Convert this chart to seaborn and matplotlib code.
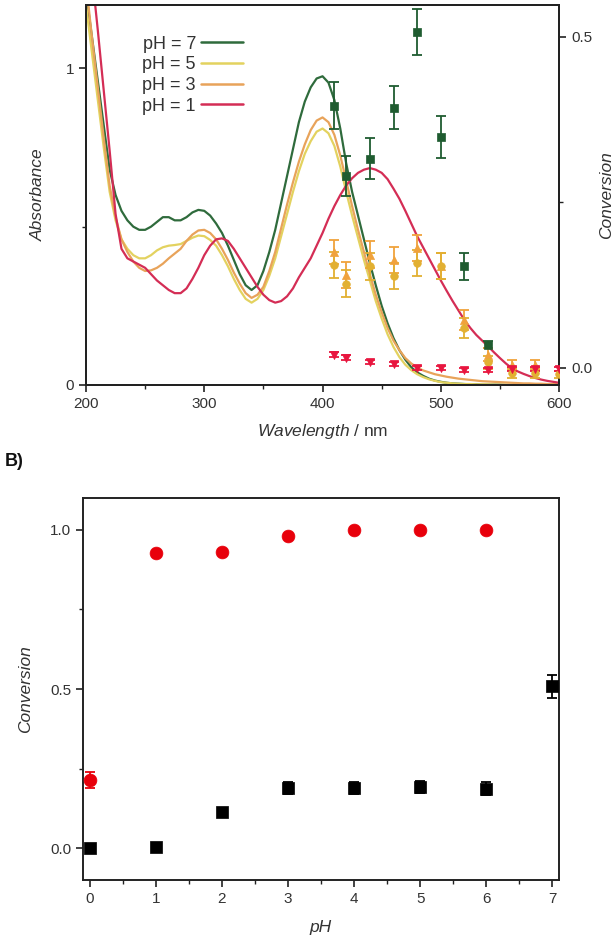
import numpy as np
import pandas as pd
import matplotlib
matplotlib.use("Agg")
import matplotlib.pyplot as plt
from matplotlib.ticker import MultipleLocator, FormatStrFormatter
from matplotlib.lines import Line2D
import seaborn as sns

# ---------------- data: panel A (absorbance spectra) ----------------
wl = [200, 205, 210, 215, 220, 225, 230, 235, 240, 245, 250, 255, 260, 265, 270, 275, 280, 285,
      290, 295, 300, 305, 310, 315, 320, 325, 330, 335, 340, 345, 350, 355, 360, 365, 370, 375,
      380, 385, 390, 395, 400, 405, 410, 415, 420, 425, 430, 435, 440, 445, 450, 455, 460, 465,
      470, 475, 480, 485, 490, 495, 500, 505, 510, 515, 520, 525, 530, 535, 540, 545, 550, 555,
      560, 565, 570, 575, 580, 585, 590, 595, 600]
abs_ph7 = [1.24, 1.10, 0.96, 0.82, 0.68, 0.60, 0.55, 0.52, 0.50, 0.49, 0.49, 0.50, 0.515, 0.53, 0.53, 0.52, 0.52, 0.53,
           0.545, 0.553, 0.55, 0.535, 0.51, 0.48, 0.44, 0.395, 0.35, 0.315, 0.30, 0.315, 0.36, 0.42, 0.49, 0.575, 0.66, 0.745,
           0.83, 0.895, 0.94, 0.968, 0.975, 0.955, 0.90, 0.81, 0.70, 0.61, 0.535, 0.46, 0.385, 0.315, 0.25, 0.195, 0.148, 0.11,
           0.08, 0.056, 0.04, 0.029, 0.02, 0.014, 0.01, 0.007, 0.005, 0.004, 0.003, 0.002, 0.002, 0.001, 0.001, 0.001, 0.001, 0.0,
           0.0, 0.0, 0.0, 0.0, 0.0, 0.0, 0.0, 0.0, 0.0]
abs_ph5 = [1.20, 1.05, 0.90, 0.75, 0.61, 0.52, 0.46, 0.43, 0.41, 0.40, 0.40, 0.41, 0.425, 0.435, 0.44, 0.442, 0.445, 0.455,
           0.465, 0.472, 0.47, 0.458, 0.44, 0.41, 0.375, 0.335, 0.30, 0.272, 0.26, 0.272, 0.30, 0.345, 0.40, 0.47, 0.54, 0.61,
           0.675, 0.73, 0.77, 0.80, 0.81, 0.795, 0.755, 0.69, 0.61, 0.535, 0.465, 0.395, 0.33, 0.265, 0.21, 0.16, 0.12, 0.088,
           0.064, 0.047, 0.034, 0.025, 0.018, 0.013, 0.009, 0.007, 0.005, 0.004, 0.003, 0.003, 0.002, 0.002, 0.002, 0.001, 0.001, 0.001,
           0.001, 0.001, 0.0, 0.0, 0.0, 0.0, 0.0, 0.0, 0.0]
abs_ph3 = [1.27, 1.10, 0.94, 0.78, 0.63, 0.53, 0.46, 0.42, 0.39, 0.37, 0.36, 0.362, 0.37, 0.383, 0.40, 0.415, 0.43, 0.455,
           0.475, 0.488, 0.49, 0.48, 0.46, 0.43, 0.395, 0.355, 0.32, 0.29, 0.275, 0.285, 0.31, 0.36, 0.42, 0.495, 0.57, 0.64,
           0.705, 0.76, 0.805, 0.835, 0.845, 0.83, 0.79, 0.725, 0.645, 0.565, 0.49, 0.42, 0.35, 0.285, 0.23, 0.18, 0.14, 0.11,
           0.085, 0.068, 0.055, 0.046, 0.04, 0.034, 0.03, 0.026, 0.023, 0.02, 0.018, 0.016, 0.014, 0.012, 0.011, 0.01, 0.009, 0.008,
           0.007, 0.006, 0.005, 0.005, 0.004, 0.004, 0.003, 0.003, 0.003]
abs_ph1 = [1.47, 1.30, 1.12, 0.93, 0.74, 0.54, 0.43, 0.40, 0.39, 0.38, 0.37, 0.35, 0.33, 0.315, 0.30, 0.29, 0.29, 0.305,
           0.335, 0.37, 0.41, 0.44, 0.46, 0.463, 0.455, 0.43, 0.40, 0.37, 0.34, 0.31, 0.285, 0.268, 0.26, 0.265, 0.28, 0.305,
           0.34, 0.37, 0.40, 0.44, 0.48, 0.525, 0.565, 0.60, 0.63, 0.653, 0.67, 0.68, 0.685, 0.68, 0.67, 0.65, 0.62, 0.588,
           0.55, 0.51, 0.47, 0.435, 0.40, 0.365, 0.33, 0.297, 0.265, 0.235, 0.205, 0.18, 0.158, 0.14, 0.122, 0.103, 0.085, 0.068,
           0.053, 0.043, 0.035, 0.028, 0.022, 0.017, 0.013, 0.01, 0.007]

# conversions on right axis of panel A
conv_wl_ph7 = [410, 420, 440, 460, 480, 500, 520, 540]
conv_ph7 = [0.396, 0.29, 0.316, 0.393, 0.507, 0.349, 0.153, 0.035]
err_ph7 = [0.035, 0.03, 0.031, 0.033, 0.035, 0.032, 0.021, 0.005]

conv_wl_ph5 = [410, 420, 440, 460, 480, 500, 520, 540, 560, 580, 600]
conv_ph5 = [0.155, 0.127, 0.153, 0.139, 0.158, 0.154, 0.060, 0.008, -0.008, -0.008, -0.01]
err_ph5 = [0.02, 0.02, 0.02, 0.02, 0.02, 0.02, 0.015, 0.01, 0.008, 0.008, 0.005]

conv_wl_ph3 = [410, 420, 440, 460, 480, 500, 520, 540, 560, 580]
conv_ph3 = [0.175, 0.14, 0.171, 0.163, 0.181, 0.154, 0.072, 0.02, 0.004, 0.004]
err_ph3 = [0.018, 0.02, 0.02, 0.02, 0.02, 0.02, 0.015, 0.01, 0.008, 0.008]

conv_wl_ph1 = [410, 420, 440, 460, 480, 500, 520, 540, 560, 580, 600]
conv_ph1 = [0.02, 0.015, 0.008, 0.006, 0.0, 0.0, -0.003, -0.003, -0.002, -0.002, -0.002]
err_ph1 = [0.004, 0.004, 0.003, 0.003, 0.003, 0.003, 0.003, 0.003, 0.003, 0.003, 0.003]

legend_labels = ["pH = 7", "pH = 5", "pH = 3", "pH = 1"]

# ---------------- data: panel B ----------------
ph_red = [0, 1, 2, 3, 4, 5, 6]
conv_red = [0.215, 0.926, 0.930, 0.982, 0.999, 0.999, 0.998]
err_red = [0.025, 0.004, 0.004, 0.004, 0.003, 0.003, 0.003]
ph_black = [0, 1, 2, 3, 4, 5, 6, 7]
conv_black = [0.0, 0.003, 0.113, 0.189, 0.189, 0.192, 0.187, 0.508]
err_black = [0.004, 0.004, 0.006, 0.02, 0.02, 0.02, 0.02, 0.035]

# ---------------- style ----------------
sns.set_theme(style="ticks")
plt.rcParams["font.family"] = ["Liberation Sans", "DejaVu Sans"]
plt.rcParams["mathtext.fontset"] = "custom"
plt.rcParams["mathtext.rm"] = "Liberation Sans"
plt.rcParams["mathtext.it"] = "Liberation Sans:italic"
TXT = "#333333"
SP = "#222222"

c7, c5, c3, c1 = "#2f6b3c", "#e3d25f", "#e8a35a", "#d42d55"
m7, m5, m3, m1 = "#1f5c30", "#e2b032", "#f0a23c", "#e8163f"

fig = plt.figure(figsize=(6.16, 9.48), dpi=100)
ax = fig.add_axes([0.1396, 0.5939, 0.768, 0.4008])
ax2 = ax.twinx()

df_abs = pd.DataFrame({"wl": wl * 4,
                       "A": abs_ph7 + abs_ph5 + abs_ph3 + abs_ph1,
                       "s": sum([[l] * len(wl) for l in legend_labels], [])})
pal = dict(zip(legend_labels, [c7, c5, c3, c1]))
sns.lineplot(data=df_abs, x="wl", y="A", hue="s", palette=pal, ax=ax, lw=1.6,
             legend=False, sort=False, estimator=None)

ax.set_xlim(200, 600)
ax.set_ylim(0, 1.2)
ax.xaxis.set_major_locator(MultipleLocator(100))
ax.xaxis.set_minor_locator(MultipleLocator(50))
ax.yaxis.set_major_locator(MultipleLocator(1))
ax.yaxis.set_minor_locator(MultipleLocator(0.5))

series = [(conv_wl_ph7, conv_ph7, err_ph7, m7, "s", 30),
          (conv_wl_ph3, conv_ph3, err_ph3, m3, "^", 34),
          (conv_wl_ph5, conv_ph5, err_ph5, m5, "o", 30),
          (conv_wl_ph1, conv_ph1, err_ph1, m1, "v", 34)]
for xs, ys, es, col, mk, sz in series:
    ax2.errorbar(xs, ys, yerr=es, fmt="none", ecolor=col, elinewidth=1.3, capsize=3.5, capthick=1.3)
    sns.scatterplot(x=xs, y=ys, ax=ax2, color=col, marker=mk, s=sz, edgecolor=col, linewidth=0.5, zorder=3)
ax2.set_ylim(-0.026, 0.548)
ax2.yaxis.set_major_locator(MultipleLocator(0.5))
ax2.yaxis.set_minor_locator(MultipleLocator(0.25))
ax2.yaxis.set_major_formatter(FormatStrFormatter("%.1f"))

handles = [Line2D([], [], color=c, lw=1.8) for c in [c7, c5, c3, c1]]
leg = ax.legend(handles, legend_labels, loc="upper left", bbox_to_anchor=(0.085, 0.962),
                frameon=False, markerfirst=False, handlelength=2.3, handletextpad=0.3,
                labelspacing=0.2, fontsize=13)
for t in leg.get_texts():
    t.set_color(TXT)

ax.set_xlabel(r"$\it{Wavelength}$ / nm", fontsize=12.5, color=TXT, labelpad=8)
ax.set_ylabel("Absorbance", fontsize=12.5, color=TXT, style="italic", labelpad=14)
ax2.set_ylabel("Conversion", fontsize=12.5, color=TXT, style="italic", labelpad=5)

# ---------------- panel B ----------------
bx = fig.add_axes([0.1347, 0.0717, 0.7727, 0.403])
bx.errorbar(ph_black, conv_black, yerr=err_black, fmt="none", ecolor="black", elinewidth=1.3,
            capsize=3.5, capthick=1.3)
bx.errorbar(ph_red, conv_red, yerr=err_red, fmt="none", ecolor="#e8000b", elinewidth=1.3,
            capsize=3.5, capthick=1.3)
sns.scatterplot(x=ph_black, y=conv_black, ax=bx, color="black", marker="s", s=75, edgecolor="black",
                linewidth=0.5, zorder=3)
sns.scatterplot(x=ph_red, y=conv_red, ax=bx, color="#e8000b", marker="o", s=85, edgecolor="#e8000b",
                linewidth=0.5, zorder=3)
bx.set_xlim(-0.1, 7.1)
bx.set_ylim(-0.1, 1.1)
bx.xaxis.set_major_locator(MultipleLocator(1))
bx.xaxis.set_minor_locator(MultipleLocator(0.5))
bx.yaxis.set_major_locator(MultipleLocator(0.5))
bx.yaxis.set_minor_locator(MultipleLocator(0.25))
bx.yaxis.set_major_formatter(FormatStrFormatter("%.1f"))
bx.set_xlabel("pH", fontsize=12.5, color=TXT, style="italic", labelpad=10)
bx.set_ylabel("Conversion", fontsize=12.5, color=TXT, style="italic", labelpad=12)

for a in [ax, ax2, bx]:
    for s in a.spines.values():
        s.set_color(SP)
        s.set_linewidth(1.4)
        s.set_visible(True)
    a.tick_params(which="major", length=5, width=1.2, color=SP, labelsize=11, labelcolor=TXT, direction="out")
    a.tick_params(which="minor", length=3, width=1.0, color=SP, direction="out")
ax.tick_params(axis="y", which="both", right=False)
ax2.tick_params(axis="y", which="both", left=False, right=True)
bx.tick_params(axis="both", which="both", top=False, right=False)

fig.text(0.008, 0.508, "B)", fontsize=13, fontweight="bold", color="#111111")

fig.savefig("out.png", dpi=100)
